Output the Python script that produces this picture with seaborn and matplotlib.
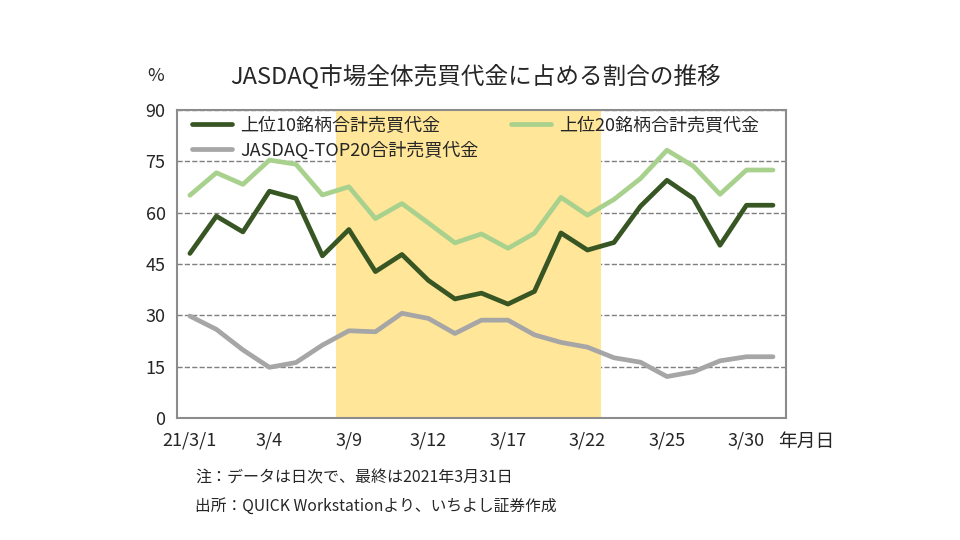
import pandas as pd
import numpy as np
import seaborn as sns
import matplotlib.pyplot as plt

# 2021年3月の営業日
dates = ["21/3/1", "3/2", "3/3", "3/4", "3/5", "3/8", "3/9", "3/10", "3/11", "3/12",
         "3/15", "3/16", "3/17", "3/18", "3/19", "3/22", "3/23", "3/24", "3/25", "3/26",
         "3/29", "3/30", "3/31"]
top10 = [48.1, 59.0, 54.4, 66.3, 64.2, 47.4, 55.1, 42.8, 47.8, 40.2, 34.8, 36.5,
         33.3, 37.0, 54.1, 49.1, 51.3, 61.9, 69.5, 64.2, 50.5, 62.2, 62.2]
top20 = [65.1, 71.7, 68.3, 75.4, 74.2, 65.2, 67.6, 58.3, 62.7, 57.0, 51.2, 53.8,
         49.6, 54.0, 64.5, 59.3, 63.9, 70.0, 78.3, 73.6, 65.4, 72.5, 72.5]
jasdaq_top20 = [29.8, 25.9, 19.9, 14.8, 16.2, 21.3, 25.5, 25.2, 30.6, 29.1, 24.7, 28.6,
                28.6, 24.3, 22.1, 20.7, 17.6, 16.3, 12.1, 13.5, 16.7, 17.9, 17.9]
names = ["上位10銘柄合計売買代金", "JASDAQ-TOP20合計売買代金", "上位20銘柄合計売買代金"]
shade_from, shade_to = "3/9", "3/22"

df = pd.DataFrame({"idx": np.arange(len(dates)), names[0]: top10,
                   names[1]: jasdaq_top20, names[2]: top20})
long_df = df.melt(id_vars="idx", var_name="series", value_name="pct")

sns.set_style("white")
plt.rcParams['font.family'] = ['Noto Sans CJK JP', 'DejaVu Sans']

fig = plt.figure(figsize=(9.6, 5.4), dpi=100)
ax = fig.add_axes([0.184, 0.226, 0.635, 0.570])

# 網掛け期間
ax.axvspan(dates.index(shade_from) - 0.5, dates.index(shade_to) + 0.5,
           color="#FFE699", lw=0, zorder=1)

sns.lineplot(data=long_df, x="idx", y="pct", hue="series", hue_order=names,
             palette=["#375623", "#A6A6A6", "#A9D18E"], linewidth=3.4, ax=ax, zorder=2)

ax.set_xlim(-0.5, len(dates) - 0.5)
ax.set_ylim(0, 90)
ax.set_yticks(range(0, 91, 15))
ax.tick_params(axis="y", length=0, labelsize=13, pad=8)

# 目盛り線は区切り、ラベルは項目の中央
ax.set_xticks(np.arange(-0.5, len(dates) - 1, 3))
ax.set_xticklabels([])
ax.tick_params(axis="x", which="major", direction="in", length=5, color="#8c8c8c", width=1.2)
ax.set_xticks(np.arange(0, len(dates), 3), minor=True)
ax.set_xticklabels(dates[::3], minor=True)
ax.tick_params(axis="x", which="minor", length=0, labelsize=13, pad=10)

ax.set_axisbelow(True)
ax.grid(axis="y", ls="--", color="#7f7f7f", lw=1)
for s in ax.spines.values():
    s.set_color("#8c8c8c")
    s.set_linewidth(1.5)
ax.set_xlabel("")
ax.set_ylabel("")

ax.legend(loc="upper left", bbox_to_anchor=(0.005, 1.02), ncol=2, frameon=False,
          fontsize=13, handlelength=2.2, handletextpad=0.45, columnspacing=1.8,
          labelspacing=0.35, borderaxespad=0.3)

fig.text(0.162, 0.86, "%", fontsize=13, ha="center", va="center")
fig.text(0.495, 0.86, "JASDAQ市場全体売買代金に占める割合の推移", fontsize=17, ha="center", va="center")
fig.text(0.840, 0.183, "年月日", fontsize=13.5, ha="center", va="center")
fig.text(0.203, 0.115, "注：データは日次で、最終は2021年3月31日", fontsize=11.5, va="center")
fig.text(0.203, 0.062, "出所：QUICK Workstationより、いちよし証券作成", fontsize=11.3, va="center")

plt.savefig("out.png", dpi=100)
